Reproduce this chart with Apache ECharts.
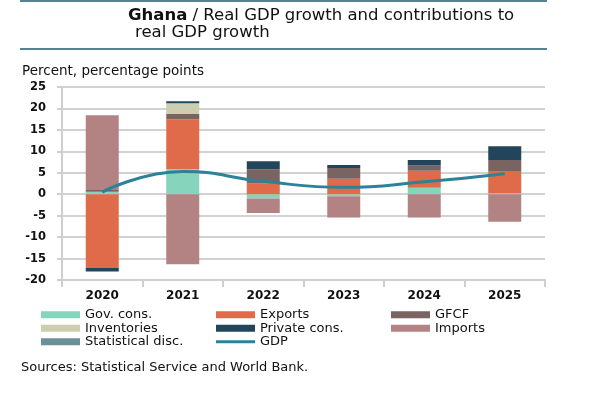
<!DOCTYPE html>
<html><head><meta charset="utf-8">
<script src="https://cdn.jsdelivr.net/npm/echarts@6/dist/echarts.min.js"></script>
<style>html,body{margin:0;padding:0;background:#fff}#c{width:600px;height:400px}</style>
</head><body><div id="c"></div>
<script>
const categories = ['2020', '2021', '2022', '2023', '2024', '2025'];
const govCons     = [0.6, 5.9, -1.0, -0.5, 1.5, 0.2];
const exportsC    = [-17.2, 11.6, 2.5, 3.6, 4.0, 5.2];
const gfcf        = [0.4, 1.2, 3.3, 2.5, 1.2, 2.6];
const inventories = [0, 2.5, 0, 0, 0, 0];
const privateCons = [-0.8, 0.5, 1.9, 0.7, 1.3, 3.2];
const imports     = [17.4, -16.3, -3.4, -4.9, -5.4, -6.4];
const statDisc    = [0, 0, 0, 0, 0, 0];
const gdp         = [0.5, 5.3, 3.0, 1.6, 2.9, 4.8];
const yMin = -20, yMax = 25, yStep = 5;

const FONT = 'DejaVu Sans';
const chart = echarts.init(document.getElementById('c'), null, {renderer: 'canvas'});

function bar(name, data, color) {
  return {
    name, type: 'bar', stack: 'c', data, barWidth: 33,
    itemStyle: {color}, emphasis: {disabled: true}
  };
}

const legendCommon = {
  orient: 'vertical', top: 308, padding: 0, itemGap: 0,
  itemWidth: 39, itemHeight: 7, icon: 'rect',
  textStyle: {fontFamily: FONT, fontSize: 13, color: '#111', lineHeight: 13.5, padding: [0, 0, 0, 0]},
  selectedMode: false
};

chart.setOption({
  animation: false,
  textStyle: {fontFamily: FONT},
  grid: {left: 62, right: 55, top: 87, bottom: 120},
  legend: [
    Object.assign({left: 41, data: ['Gov. cons.', 'Inventories', 'Statistical disc.']}, legendCommon),
    Object.assign({left: 216, data: ['Exports', 'Private cons.', {name: 'GDP', icon: 'path://M0,0 L40,0 L40,3 L0,3 Z'}]}, legendCommon),
    Object.assign({left: 391, data: ['GFCF', 'Imports']}, legendCommon)
  ],
  xAxis: {
    type: 'category', data: categories,
    axisLine: {onZero: false, lineStyle: {color: '#cfcfcf', width: 2}},
    axisTick: {show: true, length: 7, lineStyle: {color: '#cfcfcf', width: 2}},
    axisLabel: {fontFamily: FONT, fontSize: 12, fontWeight: 'bold', color: '#111', margin: 10}
  },
  yAxis: {
    type: 'value', min: yMin, max: yMax, interval: yStep,
    axisLine: {show: true, lineStyle: {color: '#cfcfcf', width: 2}},
    axisTick: {show: true, length: 5, lineStyle: {color: '#cfcfcf', width: 2}},
    splitLine: {lineStyle: {color: '#d2d2d2', width: 2}},
    axisLabel: {fontFamily: FONT, fontSize: 11.5, fontWeight: 'bold', color: '#111', margin: 16}
  },
  series: [
    bar('Gov. cons.', govCons, '#86d4bb'),
    bar('Exports', exportsC, '#df6b4b'),
    bar('GFCF', gfcf, '#7a6462'),
    bar('Inventories', inventories, '#cdcdb0'),
    bar('Private cons.', privateCons, '#22455b'),
    bar('Imports', imports, '#b38282'),
    bar('Statistical disc.', statDisc, '#6b9096'),
    {
      name: 'GDP', type: 'line', data: gdp, smooth: 0.5, symbol: 'none', z: 5,
      lineStyle: {color: '#2b8299', width: 3}, itemStyle: {color: '#2b8299'}
    }
  ],
  graphic: [
    {type: 'line', shape: {x1: 20, y1: 1, x2: 547, y2: 1}, style: {stroke: '#1d5b6b', lineWidth: 1.5}},
    {type: 'line', shape: {x1: 20, y1: 49, x2: 547, y2: 49}, style: {stroke: '#1d5b6b', lineWidth: 1.5}},
    {type: 'text', left: 128, top: 7, style: {
      text: '{b|Ghana} / Real GDP growth and contributions to',
      font: '16.5px "DejaVu Sans"', fill: '#111',
      rich: {b: {fontFamily: FONT, fontSize: 16.5, fontWeight: 'bold', fill: '#111'}}
    }},
    {type: 'text', left: 135, top: 24, style: {text: 'real GDP growth', font: '16.5px "DejaVu Sans"', fill: '#111'}},
    {type: 'text', left: 22, top: 64, style: {text: 'Percent, percentage points', font: '13.5px "DejaVu Sans"', fill: '#111'}},
    {type: 'text', left: 21, top: 361, style: {text: 'Sources: Statistical Service and World Bank.', font: '13px "DejaVu Sans"', fill: '#111'}}
  ]
});
</script></body></html>
